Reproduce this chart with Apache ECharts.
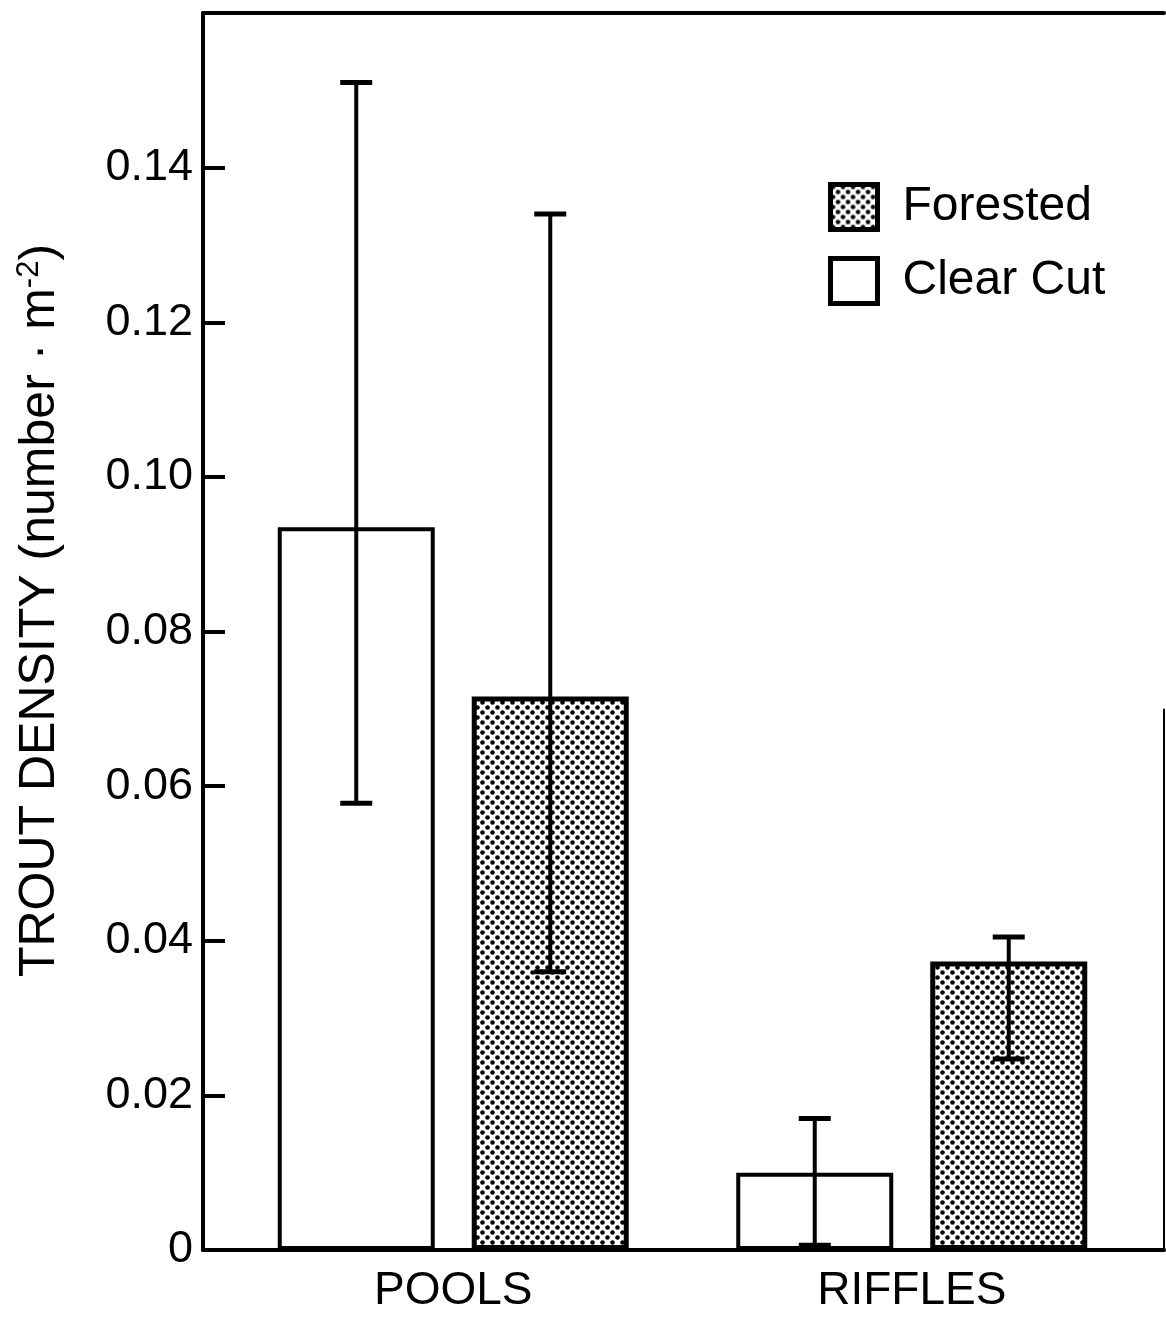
<!DOCTYPE html>
<html>
<head>
<meta charset="utf-8">
<title>Trout density</title>
<script src="https://cdn.jsdelivr.net/npm/echarts@6/dist/echarts.min.js"></script>
<style>
  html, body { margin: 0; padding: 0; background: #fff; }
  #chart { width: 1166px; height: 1320px; }
</style>
</head>
<body>
<div id="chart"></div>
<script>
// values
const categories = ['POOLS', 'RIFFLES'];
const clearCut = [0.0935, 0.0100];
const clearCutLow = [0.0578, 0.0006];
const clearCutHigh = [0.1510, 0.0170];
const forested = [0.0716, 0.0373];
const forestedLow = [0.0360, 0.0247];
const forestedHigh = [0.1340, 0.0405];
const yTickLabels = ['0', '0.02', '0.04', '0.06', '0.08', '0.10', '0.12', '0.14'];

const FONT = 'Liberation Sans';
const BAR_W = 157;
const BAR_GAP = 37; // px between the two bars of a group
const ERR_OFFSET = (BAR_W + BAR_GAP) / 2;

// dotted fill for the forested bars
function dotPattern() {
  const c = document.createElement('canvas');
  c.width = 10; c.height = 10;
  const ctx = c.getContext('2d');
  ctx.fillStyle = '#fff';
  ctx.fillRect(0, 0, 10, 10);
  ctx.fillStyle = '#000';
  [[2.5, 2.5], [7.5, 7.5]].forEach(function (p) {
    ctx.beginPath();
    ctx.arc(p[0], p[1], 2.3, 0, Math.PI * 2);
    ctx.fill();
  });
  return c;
}
const dots = { image: dotPattern(), repeat: 'repeat' };

// error bar drawing, shifted to sit on its bar
function errorBars(offset) {
  return function (params, api) {
    const lo = api.coord([api.value(0), api.value(1)]);
    const hi = api.coord([api.value(0), api.value(2)]);
    const x = lo[0] + offset;
    const cap = 16;
    return {
      type: 'group',
      children: [
        { type: 'line', shape: { x1: x, y1: lo[1], x2: x, y2: hi[1] }, style: { stroke: '#000', lineWidth: 4 } },
        { type: 'line', shape: { x1: x - cap, y1: hi[1], x2: x + cap, y2: hi[1] }, style: { stroke: '#000', lineWidth: 5 } },
        { type: 'line', shape: { x1: x - cap, y1: lo[1], x2: x + cap, y2: lo[1] }, style: { stroke: '#000', lineWidth: 5 } }
      ]
    };
  };
}

const chart = echarts.init(document.getElementById('chart'));
chart.setOption({
  animation: false,
  backgroundColor: '#fff',
  textStyle: { fontFamily: FONT },
  grid: [
    { left: 203, top: 13, width: 961, bottom: 70 },   // frame + y scale
    { left: 224, top: 13, width: 917, bottom: 70 }    // bars
  ],
  legend: {
    data: ['Forested', 'Clear Cut'],
    orient: 'vertical',
    left: 823,
    top: 177,
    itemWidth: 47,
    itemHeight: 45,
    itemGap: 24,
    icon: 'rect',
    itemStyle: { borderColor: '#000', borderWidth: 5 },
    textStyle: { fontSize: 48, fontFamily: FONT, color: '#000', padding: [0, 0, 0, 20] }
  },
  xAxis: [
    { gridIndex: 0, type: 'value', min: 0, max: 1, position: 'bottom',
      axisLine: { show: true, lineStyle: { color: '#000', width: 4 } },
      axisTick: { show: false }, axisLabel: { show: false }, splitLine: { show: false } },
    { gridIndex: 0, type: 'value', min: 0, max: 1, position: 'top',
      axisLine: { show: true, lineStyle: { color: '#000', width: 4 } },
      axisTick: { show: false }, axisLabel: { show: false }, splitLine: { show: false } },
    { gridIndex: 1, type: 'category', data: categories,
      axisLine: { show: false }, axisTick: { show: false },
      axisLabel: { fontSize: 46, fontFamily: FONT, color: '#000', margin: 18 } }
  ],
  yAxis: [
    { gridIndex: 0, type: 'value', min: 0, max: 0.16, interval: 0.02,
      name: '{a|TROUT DENSITY (number · m}{s|-2}{a|)}',
      nameLocation: 'middle',
      nameGap: 136,
      nameTextStyle: {
        padding: [0, 0, 0, 42],
        rich: {
          a: { fontSize: 50, fontFamily: FONT, color: '#000' },
          s: { fontSize: 31, fontFamily: FONT, color: '#000', padding: [0, 0, 22, 0] }
        }
      },
      axisLine: { show: true, lineStyle: { color: '#000', width: 4 } },
      axisTick: { show: true, inside: true, length: 22, lineStyle: { color: '#000', width: 4 } },
      axisLabel: {
        fontSize: 45, fontFamily: FONT, color: '#000', margin: 10,
        formatter: function (v) {
          const i = Math.round(v / 0.02);
          return yTickLabels[i] || '';
        }
      },
      splitLine: { show: false } },
    { gridIndex: 1, type: 'value', min: 0, max: 0.16, show: false }
  ],
  series: [
    { name: 'Clear Cut', type: 'bar', xAxisIndex: 2, yAxisIndex: 1,
      data: clearCut, barWidth: BAR_W, barGap: (BAR_GAP / BAR_W * 100) + '%',
      itemStyle: { color: '#fff', borderColor: '#000', borderWidth: 4 } },
    { name: 'Forested', type: 'bar', xAxisIndex: 2, yAxisIndex: 1,
      data: forested, barWidth: BAR_W,
      itemStyle: { color: dots, borderColor: '#000', borderWidth: 5 } },
    { type: 'custom', xAxisIndex: 2, yAxisIndex: 1, z: 5,
      renderItem: errorBars(-ERR_OFFSET),
      data: categories.map(function (c, i) { return [i, clearCutLow[i], clearCutHigh[i]]; }) },
    { type: 'custom', xAxisIndex: 2, yAxisIndex: 1, z: 5,
      renderItem: errorBars(ERR_OFFSET),
      data: categories.map(function (c, i) { return [i, forestedLow[i], forestedHigh[i]]; }) },
    // right edge of the frame, only the lower part shows in the figure
    { type: 'line', xAxisIndex: 0, yAxisIndex: 0, clip: false, symbol: 'none',
      data: [[1, 0], [1, 0.07]], lineStyle: { color: '#000', width: 2 } }
  ]
});
</script>
</body>
</html>
